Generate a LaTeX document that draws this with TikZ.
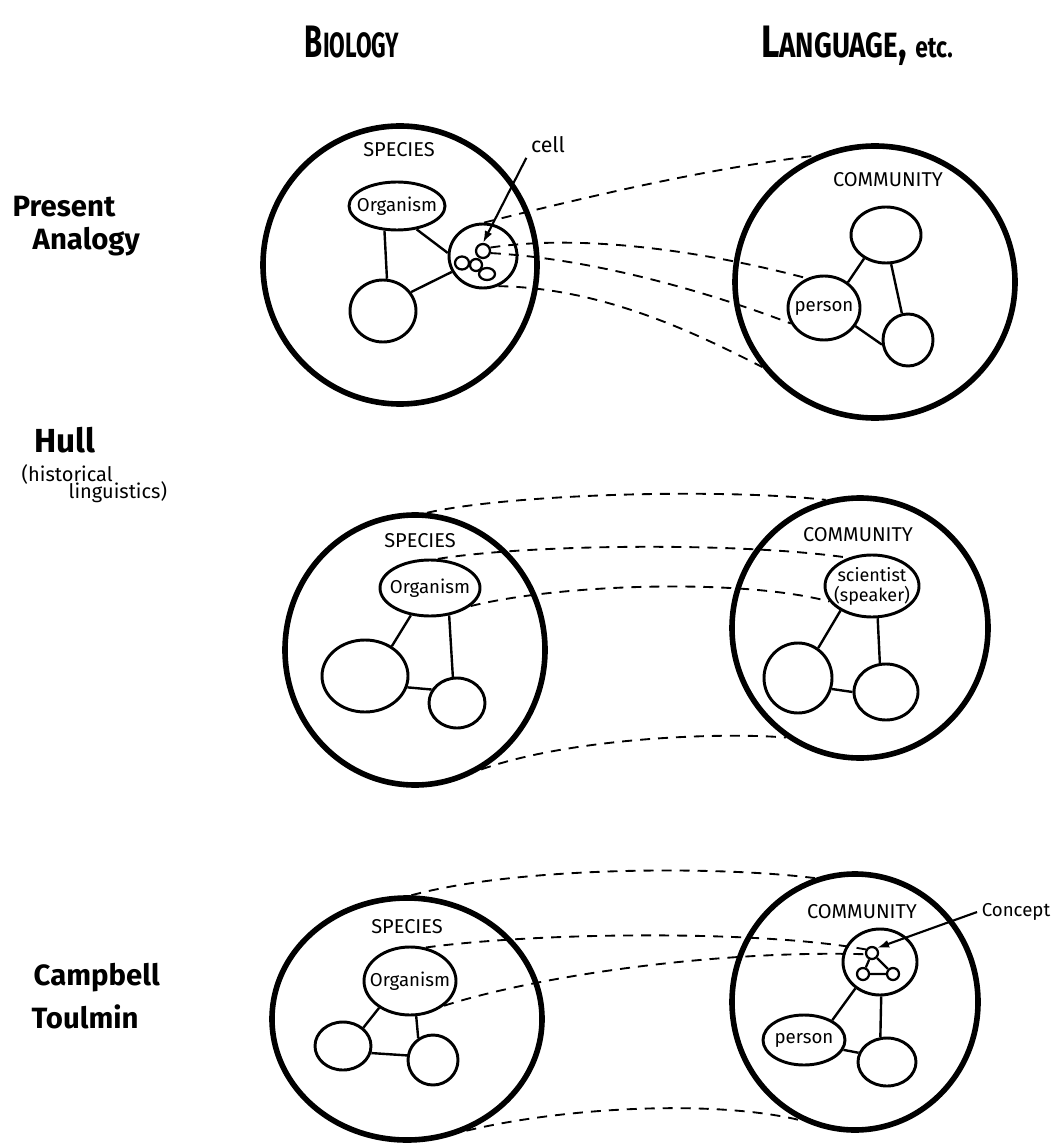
\documentclass[tikz,border=0pt]{standalone}
\usepackage{fontspec}
\setmainfont{Fira Sans}
\usetikzlibrary{shapes.geometric,arrows.meta}
\begin{document}
\begin{tikzpicture}[x=0.75pt,y=-0.75pt,
  blob/.style 2 args={ellipse,inner sep=0pt,minimum width=#1*1.5pt,minimum height=#2*1.5pt},
  outer/.style={draw,line width=4.2pt},
  inner/.style={draw,line width=2.2pt},
  mol/.style 2 args={ellipse,draw,line width=1.7pt,inner sep=0pt,minimum width=#1*1.5pt,minimum height=#2*1.5pt},
  link/.style={line width=1.8pt},
  tie/.style={line width=1.4pt,dash pattern=on 7.5pt off 6pt},
  pointer/.style={line width=1.6pt,-{Latex[length=9pt,width=6pt]}},
  caps/.style={font=\fontsize{15}{17}\selectfont},
  word/.style={font=\fontsize{14}{16}\selectfont},
  head/.style={font=\fontsize{22}{26}\selectfont\bfseries},
  side/.style={font=\fontsize{22}{24}\selectfont\bfseries,align=left},
  sidesmall/.style={font=\fontsize{15}{17}\selectfont},
]
\useasboundingbox (0,0) rectangle (1061,1144);

% column headings
\node[head] (hbio) at (352,42) {\scalebox{1}[1.55]{B{\fontsize{17}{20}\selectfont IOLOGY}}};
\node[head] (hlang) at (857,46) {\scalebox{1.22}[1.55]{L{\fontsize{17}{20}\selectfont ANGUAGE}, {\fontsize{14}{18}\selectfont etc.}}};

% row headings
\node[side,anchor=west] (present) at (8,207) {Present};
\node[side,anchor=west] (analogy) at (28,242) {Analogy};
\node[side,anchor=west,font=\fontsize{25}{27}\selectfont\bfseries] (hull) at (30,440) {Hull};
\node[sidesmall,anchor=west] (hist) at (17,474) {(historical};
\node[sidesmall,anchor=west] (ling) at (64,492) {linguistics)};
\node[side,anchor=west] (campbell) at (29,978) {Campbell};
\node[side,anchor=west] (toulmin) at (27,1017) {Toulmin};

% ---------- row 1: present analogy ----------
\node[blob={137}{139},outer] (sp1) at (400,265) {};
\node[caps] (sp1t) at (399,150) {SPECIES};
\node[blob={48}{24},inner,label={[word]center:Organism}] (org1) at (397,206) {};
\node[blob={33}{31},inner] (a1) at (383,311) {};
\node[blob={34}{32},inner] (cell1) at (483,256) {};
\node[mol={7}{7}] (m1) at (483,251) {};
\node[mol={7}{6.5}] (m2) at (462,263) {};
\node[mol={6}{6}] (m3) at (476,265) {};
\node[mol={8}{6}] (m4) at (487,274) {};
\node[font=\fontsize{16}{18}\selectfont] (celltxt) at (548,145) {cell};
\draw[link] (org1.-117) -- (a1.83);
\draw[link] (org1.-50) -- (cell1.175);
\draw[link] (a1.34) -- (cell1.207);
\draw[pointer] (celltxt.south west) -- (m1.north);

\node[blob={140}{136},outer] (cm1) at (875,282) {};
\node[caps] (cm1t) at (888,180) {COMMUNITY};
\node[blob={35}{28},inner] (b1) at (886,235) {};
\node[blob={36}{32},inner,label={[word]center:person}] (per1) at (824,308) {};
\node[blob={25}{26},inner] (c1) at (908,340) {};
\draw[link] (b1.227) -- (per1.47);
\draw[link] (b1.280) -- (c1.103);
\draw[link] (per1.330) -- (c1.190);

\draw[tie] (cell1.88) .. controls (590,196) and (710,168) .. (cm1.115);
\draw[tie] (m1.25) .. controls (580,234) and (700,250) .. (per1.120);
\draw[tie] (m1.-15) .. controls (580,258) and (690,285) .. (per1.205);
\draw[tie] (cell1.297) .. controls (600,288) and (690,330) .. (cm1.217);

% ---------- row 2: Hull ----------
\node[blob={130}{135},outer] (sp2) at (415,650) {};
\node[caps] (sp2t) at (420,541) {SPECIES};
\node[blob={50}{28},inner,label={[word]center:Organism}] (org2) at (430,588) {};
\node[blob={43}{36},inner] (a2) at (365,676) {};
\node[blob={28}{25},inner] (b2) at (457,703) {};
\draw[link] (org2.235) -- (a2.48);
\draw[link] (org2.305) -- (b2.99);
\draw[link] (a2.345) -- (b2.152);

\node[blob={128}{130},outer] (cm2) at (860,628) {};
\node[caps] (cm2t) at (858,535) {COMMUNITY};
\node[blob={47}{31},inner,label={[align=center,font=\fontsize{13.5}{15}\selectfont]center:scientist\\(speaker)}] (sci2) at (872,586) {};
\node[blob={34}{35},inner] (c2) at (798,678) {};
\node[blob={32}{28},inner] (d2) at (886,692) {};
\draw[link] (sci2.218) -- (c2.56);
\draw[link] (sci2.280) -- (d2.102);
\draw[link] (c2.342) -- (d2.180);

\draw[tie] (sp2.85) .. controls (510,494) and (720,488) .. (cm2.105);
\draw[tie] (org2.75) .. controls (530,544) and (740,542) .. (sci2.130);
\draw[tie] (org2.336) .. controls (560,584) and (740,578) .. (sci2.200);
\draw[tie] (sp2.299) .. controls (570,738) and (720,732) .. (cm2.236);

% ---------- row 3: Campbell, Toulmin ----------
\node[blob={135}{121},outer] (sp3) at (407,1019) {};
\node[caps] (sp3t) at (407,927) {SPECIES};
\node[blob={46}{34},inner,label={[word]center:Organism}] (org3) at (410,981) {};
\node[blob={28}{24},inner] (a3) at (343,1046) {};
\node[blob={25}{25},inner] (b3) at (433,1060) {};
\draw[link] (org3.221) -- (a3.42);
\draw[link] (org3.280) -- (b3.124);
\draw[link] (a3.346) -- (b3.170);

\node[blob={123}{128},outer] (cm3) at (855,1002) {};
\node[caps] (cm3t) at (862,912) {COMMUNITY};
\node[blob={37}{33},inner] (con3) at (880,962) {};
\node[mol={6}{6}] (n1) at (872,953) {};
\node[mol={6}{6}] (n2) at (863,974) {};
\node[mol={6}{6}] (n3) at (893,974) {};
\draw[line width=1.7pt] (n1) -- (n2) (n1) -- (n3) (n2) -- (n3);
\node[font=\fontsize{14}{16}\selectfont] (contxt) at (1016,912) {Concept};
\draw[pointer] (contxt.west) -- (n1.north east);
\node[blob={41}{25},inner,label={[word]center:person}] (per3) at (804,1040) {};
\node[blob={29}{24},inner] (c3) at (887,1062) {};
\draw[link] (con3.227) -- (per3.35);
\draw[link] (con3.272) -- (c3.105);
\draw[link] (per3.346) -- (c3.162);

\draw[tie] (sp3.88) .. controls (520,866) and (720,866) .. (cm3.108);
\draw[tie] (org3.65) .. controls (540,932) and (760,930) .. (n1.150);
\draw[tie] (org3.324) .. controls (540,975) and (720,950) .. (n1.190);
\draw[tie] (sp3.298) .. controls (570,1106) and (720,1100) .. (cm3.246);
\end{tikzpicture}
\end{document}
